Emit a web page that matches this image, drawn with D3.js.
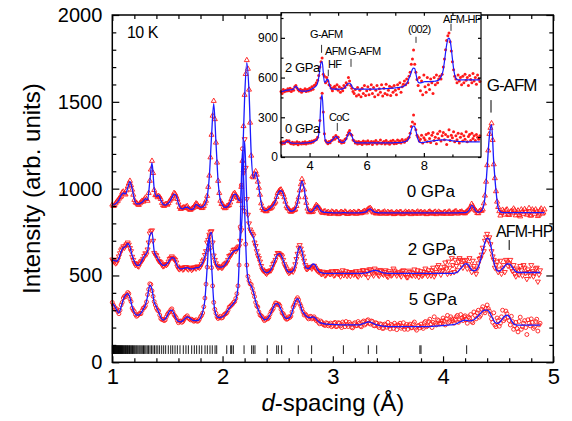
<!DOCTYPE html>
<html><head><meta charset="utf-8">
<script src="https://cdn.jsdelivr.net/npm/d3@7"></script>
<style>
body{margin:0;background:#fff}
svg text{font-family:"Liberation Sans",Arial,Helvetica,sans-serif;fill:#000}
</style></head><body>
<svg id="chart" width="572" height="421"></svg>
<script>
// ---- main panel: measured d-spacings (Å) ----
const dObs = [
1.00,1.01,1.02,1.03,1.04,1.05,1.06,1.07,1.08,1.09,1.10,1.11,1.12,1.13,1.14,1.15,1.16,1.17,1.18,1.19,
1.20,1.21,1.22,1.23,1.24,1.25,1.26,1.27,1.28,1.29,1.30,1.31,1.32,1.33,1.34,1.35,1.36,1.37,1.38,1.39,
1.40,1.41,1.42,1.43,1.44,1.45,1.46,1.47,1.48,1.49,1.50,1.51,1.52,1.53,1.54,1.55,1.56,1.57,1.58,1.59,
1.60,1.61,1.62,1.63,1.64,1.65,1.66,1.67,1.68,1.69,1.70,1.71,1.72,1.73,1.74,1.75,1.76,1.77,1.78,1.79,
1.80,1.81,1.82,1.83,1.84,1.85,1.86,1.87,1.88,1.89,1.90,1.91,1.92,1.93,1.94,1.95,1.96,1.97,1.98,1.99,
2.00,2.01,2.02,2.03,2.04,2.05,2.06,2.07,2.08,2.09,2.10,2.11,2.12,2.13,2.14,2.15,2.16,2.17,2.18,2.19,
2.20,2.21,2.22,2.23,2.24,2.25,2.26,2.27,2.28,2.29,2.30,2.31,2.32,2.33,2.34,2.35,2.36,2.37,2.38,2.39,
2.40,2.41,2.42,2.43,2.44,2.45,2.46,2.47,2.48,2.49,2.50,2.51,2.52,2.53,2.54,2.55,2.56,2.57,2.58,2.59,
2.60,2.61,2.62,2.63,2.64,2.65,2.66,2.67,2.68,2.69,2.70,2.71,2.72,2.73,2.74,2.75,2.76,2.77,2.78,2.79,
2.80,2.81,2.82,2.83,2.84,2.85,2.86,2.87,2.88,2.89,2.90,2.91,2.92,2.93,2.94,2.95,2.96,2.97,2.98,2.99,
3.00,3.01,3.02,3.03,3.04,3.05,3.06,3.07,3.08,3.09,3.10,3.11,3.12,3.13,3.14,3.15,3.16,3.17,3.18,3.19,
3.20,3.21,3.22,3.23,3.24,3.25,3.26,3.27,3.28,3.29,3.30,3.31,3.32,3.33,3.34,3.35,3.36,3.37,3.38,3.39,
3.40,3.41,3.42,3.43,3.44,3.45,3.46,3.47,3.48,3.49,3.50,3.51,3.52,3.53,3.54,3.55,3.56,3.57,3.58,3.59,
3.60,3.61,3.62,3.63,3.64,3.65,3.66,3.67,3.68,3.69,3.70,3.71,3.72,3.73,3.74,3.75,3.76,3.77,3.78,3.79,
3.80,3.81,3.82,3.83,3.84,3.85,3.86,3.87,3.88,3.89,3.90,3.91,3.92,3.93,3.94,3.95,3.96,3.97,3.98,3.99,
4.00,4.01,4.02,4.03,4.04,4.05,4.06,4.07,4.08,4.09,4.10,4.11,4.12,4.13,4.14,4.15,4.16,4.17,4.18,4.19,
4.20,4.21,4.22,4.23,4.24,4.25,4.26,4.27,4.28,4.29,4.30,4.31,4.32,4.33,4.34,4.35,4.36,4.37,4.38,4.39,
4.40,4.41,4.42,4.43,4.44,4.45,4.46,4.47,4.48,4.49,4.50,4.51,4.52,4.53,4.54,4.55,4.56,4.57,4.58,4.59,
4.60,4.61,4.62,4.63,4.64,4.65,4.66,4.67,4.68,4.69,4.70,4.71,4.72,4.73,4.74,4.75,4.76,4.77,4.78,4.79,
4.80,4.81,4.82,4.83,4.84,4.85,4.86,4.87,4.88,4.89,4.90,4.91,4.92];

// ---- main panel: refined-profile d-spacings (Å) ----
const dCalc = [
1.00,1.02,1.04,1.06,1.08,1.10,1.12,1.14,1.16,1.18,
1.20,1.22,1.24,1.26,1.28,1.30,1.32,1.34,1.36,1.38,
1.40,1.42,1.44,1.46,1.48,1.50,1.52,1.54,1.56,1.58,
1.60,1.62,1.64,1.66,1.68,1.70,1.72,1.74,1.76,1.78,
1.80,1.82,1.84,1.86,1.88,1.90,1.92,1.94,1.96,1.98,
2.00,2.02,2.04,2.06,2.08,2.10,2.12,2.14,2.16,2.18,
2.20,2.22,2.24,2.26,2.28,2.30,2.32,2.34,2.36,2.38,
2.40,2.42,2.44,2.46,2.48,2.50,2.52,2.54,2.56,2.58,
2.60,2.62,2.64,2.66,2.68,2.70,2.72,2.74,2.76,2.78,
2.80,2.82,2.84,2.86,2.88,2.90,2.92,2.94,2.96,2.98,
3.00,3.02,3.04,3.06,3.08,3.10,3.12,3.14,3.16,3.18,
3.20,3.22,3.24,3.26,3.28,3.30,3.32,3.34,3.36,3.38,
3.40,3.42,3.44,3.46,3.48,3.50,3.52,3.54,3.56,3.58,
3.60,3.62,3.64,3.66,3.68,3.70,3.72,3.74,3.76,3.78,
3.80,3.82,3.84,3.86,3.88,3.90,3.92,3.94,3.96,3.98,
4.00,4.02,4.04,4.06,4.08,4.10,4.12,4.14,4.16,4.18,
4.20,4.22,4.24,4.26,4.28,4.30,4.32,4.34,4.36,4.38,
4.40,4.42,4.44,4.46,4.48,4.50,4.52,4.54,4.56,4.58,
4.60,4.62,4.64,4.66,4.68,4.70,4.72,4.74,4.76,4.78,
4.80,4.82,4.84,4.86,4.88,4.90,4.92];

// 0 GPa (offset pattern, top)
const obs0GPa = [
908,900,903,915,925,930,942,950,955,978,983,972,966,990,1012,1030,1045,1020,994,965,
935,920,918,910,906,915,922,930,925,938,948,940,930,975,1045,1110,1160,1090,992,962,
962,950,958,952,940,918,905,900,910,912,907,916,930,938,944,960,975,970,955,940,
920,895,883,886,890,893,888,896,899,886,880,878,884,889,892,905,915,910,898,894,
897,888,890,900,915,930,958,1010,1075,1180,1310,1420,1505,1400,1265,1150,1045,975,930,912,
910,895,887,890,900,902,905,920,940,955,970,975,962,952,945,928,932,1010,1160,1360,
1540,1660,1740,1690,1570,1380,1190,1070,1065,1085,1100,1080,1040,1005,965,915,888,876,879,870,
870,880,886,884,889,896,910,916,925,952,975,985,992,995,980,968,950,925,898,888,
884,872,866,870,876,876,880,900,925,950,990,1025,1055,1035,995,950,918,885,868,864,
870,865,868,882,894,906,900,890,886,874,864,860,868,870,858,862,866,855,857,868,
865,856,858,866,862,853,856,864,866,859,859,868,863,854,855,862,864,858,858,866,
862,855,857,867,866,858,859,864,868,872,863,875,882,886,888,880,868,862,869,857,
858,866,865,856,856,862,863,868,857,855,866,859,859,864,862,853,854,861,865,858,
858,866,864,853,855,861,867,858,860,866,856,853,866,862,859,855,863,868,855,862,
866,858,857,864,862,853,855,866,868,861,859,855,864,867,853,858,867,862,860,856,
856,864,865,855,858,867,868,856,855,861,863,869,869,857,857,864,865,868,860,858,
858,866,872,878,884,895,912,900,886,878,872,860,858,870,875,872,880,915,960,1040,
1135,1220,1315,1350,1376,1280,1140,1060,985,925,894,870,845,860,878,868,850,875,880,852,
848,866,872,858,885,876,846,862,874,848,840,880,868,855,882,870,850,862,888,845,
845,880,870,855,880,868,842,850,875,885,856,862,880];
const calc0GPa = [
905,910,918,935,960,975,970,1005,1040,1000,
940,912,912,918,928,942,935,1040,1150,1000,
955,962,935,910,905,912,925,948,968,960,
915,888,884,892,893,884,880,888,910,902,
893,895,910,950,1070,1300,1490,1270,1040,935,
905,892,895,910,935,965,968,940,930,1130,
1520,1725,1560,1200,1060,1095,1045,960,892,874,
875,882,893,905,930,968,988,985,945,902,
880,870,872,885,920,985,1045,1000,912,872,
866,872,890,903,882,868,864,863,862,862,
861,861,860,860,861,862,861,860,860,860,
860,860,861,862,864,866,878,884,872,865,
862,861,860,860,860,860,860,860,860,860,
860,860,860,860,860,860,860,860,860,860,
860,860,860,860,860,860,860,860,860,860,
860,860,860,860,860,860,860,861,862,862,
862,866,880,904,890,868,864,868,885,950,
1120,1300,1368,1150,990,890,866,862,862,862,
862,862,862,862,862,862,862,862,862,862,
862,862,862,862,862,862,862];

// 2 GPa
const obs2GPa = [
592,582,578,570,575,592,610,628,645,655,668,660,672,680,690,678,658,640,608,590,
572,560,566,555,552,570,580,585,596,612,628,622,650,690,742,755,760,700,630,620,
616,598,584,580,575,562,553,556,565,560,566,580,595,600,610,602,596,590,575,552,
540,536,545,544,534,538,548,548,540,535,546,542,532,538,545,548,540,552,550,545,
552,565,582,592,618,640,690,705,735,752,755,690,615,590,570,556,545,550,552,545,
546,558,565,570,575,590,612,615,620,636,648,650,640,655,662,668,700,760,890,1090,
1285,1120,940,850,800,765,752,740,730,690,670,640,615,600,580,555,535,528,525,515,
510,520,524,528,530,548,566,575,590,612,630,628,622,618,610,590,565,552,540,525,
515,518,525,530,522,540,565,595,625,660,675,655,632,610,585,560,538,538,545,550,
548,540,552,556,545,535,528,522,525,512,508,522,518,500,505,515,520,510,508,525,
518,500,504,526,522,508,510,495,516,530,502,512,525,498,508,520,498,515,520,505,
512,525,500,494,524,515,505,530,530,512,508,525,490,535,535,518,510,500,540,528,
520,505,498,532,525,510,505,520,530,498,492,525,515,500,505,540,528,512,500,518,
518,506,495,525,530,512,505,490,490,528,520,505,500,515,535,498,508,530,492,510,
525,498,505,520,540,512,498,530,515,500,530,545,495,510,520,548,560,530,505,525,
530,550,575,540,510,580,545,515,600,560,520,590,555,530,580,600,590,560,545,585,
570,590,540,565,600,545,520,585,555,530,510,540,570,595,600,620,660,640,700,720,
740,705,720,680,640,610,590,545,560,580,520,535,585,510,545,560,520,590,580,555,
570,590,540,525,560,510,495,540,530,505,555,530,500,560,545,515,480,535,520,500,
560,525,495,515,540,545,465,505,530,null,null,null,null];
const calc2GPa = [
588,585,582,600,638,660,666,684,665,615,
580,560,558,575,600,620,640,730,748,640,
610,590,570,558,560,570,588,603,600,570,
545,538,540,543,545,540,538,540,545,545,
555,575,610,665,725,748,630,565,550,548,
550,560,580,605,625,640,645,650,700,880,
1275,930,780,745,720,665,620,575,540,522,
515,520,535,560,595,622,626,605,570,535,
520,520,528,560,630,668,640,580,542,540,
552,566,560,535,520,515,512,512,512,512,
512,512,512,512,512,512,512,512,512,512,
512,512,512,512,513,515,518,522,527,529,
528,524,519,515,513,512,512,512,512,512,
512,512,512,512,512,512,512,512,512,512,
512,512,512,512,512,512,512,512,512,512,
512,512,512,512,512,513,516,525,540,555,
567,566,550,532,527,532,550,590,640,690,
715,705,650,580,538,525,528,540,555,566,
567,555,535,522,518,517,517,517,517,517,
517,517,517,517,517,null,null];

// 5 GPa
const obs5GPa = [
345,330,318,305,308,292,280,300,330,345,370,380,378,390,402,395,365,350,312,300,
292,275,265,270,278,282,280,298,312,315,325,348,390,420,452,448,412,380,350,330,
312,300,296,272,252,246,248,240,244,262,276,285,290,302,308,290,274,265,256,240,
228,236,238,230,235,246,258,262,268,255,250,244,248,242,236,240,245,236,238,248,
262,270,284,320,370,450,548,650,725,660,545,440,345,305,282,262,252,258,265,255,
258,270,278,280,286,300,318,322,330,335,345,350,368,395,440,560,780,1020,1230,1100,
870,680,560,495,470,452,448,425,400,378,345,325,318,290,272,268,262,250,240,246,
255,250,258,276,292,300,310,328,342,340,332,335,326,305,284,280,268,255,248,250,
262,258,266,290,318,330,345,362,372,360,338,325,308,290,272,278,270,258,250,262,
265,250,255,262,250,240,246,230,222,238,232,220,215,212,228,224,210,218,226,205,
212,225,230,205,208,228,225,210,200,232,222,205,235,218,206,230,220,202,198,222,
228,210,212,235,225,208,205,232,238,215,222,240,245,225,220,238,235,212,210,228,
225,208,200,222,218,195,196,220,215,202,230,208,192,218,212,195,225,210,188,215,
214,225,196,205,228,190,205,218,190,212,220,198,200,222,232,196,185,210,212,198,
220,205,195,228,235,205,210,235,248,220,200,230,262,225,215,245,240,220,225,238,
255,240,215,250,270,228,235,262,250,238,225,248,262,270,230,245,275,255,240,262,
268,245,225,262,255,275,235,228,290,270,250,285,300,260,270,305,320,295,285,310,
330,310,295,275,250,230,285,215,205,255,240,208,225,262,300,240,250,295,280,260,
240,215,265,235,190,210,230,195,175,235,260,190,205,225,240,200,160,245,225,210,
250,230,195,205,235,248,180,215,225,null,null,null,null];
const calc5GPa = [
338,325,300,285,320,362,385,396,372,320,
285,272,272,285,305,330,380,445,420,345,
320,290,258,243,250,270,295,300,280,250,
235,233,240,252,262,256,245,240,240,242,
255,290,360,540,712,560,350,275,258,258,
262,272,290,310,325,340,360,430,760,1220,
880,540,460,440,405,350,310,280,258,245,
248,262,285,315,336,338,320,290,262,252,
255,270,310,350,367,345,300,280,265,258,
258,262,255,240,230,225,222,220,219,218,
218,217,217,216,216,215,215,215,215,215,
215,215,216,219,224,229,232,231,226,220,
215,212,210,208,207,206,205,205,205,205,
205,205,205,205,205,205,205,205,205,205,
205,205,205,205,206,207,208,209,210,211,
212,213,214,215,216,218,222,228,235,240,
243,240,238,240,245,255,268,282,295,300,
300,290,265,240,226,225,235,252,266,271,
262,240,222,215,214,214,214,214,214,214,
214,214,214,214,214,null,null];

// Bragg reflection positions (Å)
const braggD = [
1.000,1.004,1.008,1.011,1.015,1.019,1.022,1.026,1.030,1.033,1.037,1.041,1.045,1.049,1.052,1.056,
1.061,1.065,1.069,1.074,1.078,1.083,1.087,1.092,1.097,1.103,1.108,1.114,1.119,1.125,1.131,1.137,
1.142,1.149,1.156,1.162,1.169,1.176,1.183,1.191,1.199,1.207,1.216,1.224,1.233,1.243,1.252,1.262,
1.272,1.283,1.294,1.305,1.317,1.329,1.342,1.355,1.369,1.383,1.398,1.413,1.429,1.448,1.466,1.484,
1.508,1.530,1.548,1.569,1.590,1.614,1.644,1.668,1.690,1.720,1.744,1.765,1.789,1.811,1.841,1.862,
1.886,1.907,1.932,1.947,2.038,2.074,2.083,2.098,2.195,2.264,2.279,2.294,2.406,2.491,2.506,2.536,
2.687,2.808,3.096,3.322,3.398,3.790,3.800,4.214];

// ---- inset: long-d magnetic region ----
const dInset = [
3.00,3.04,3.08,3.12,3.16,3.20,3.24,3.28,3.32,3.36,
3.40,3.44,3.48,3.52,3.56,3.60,3.64,3.68,3.72,3.76,
3.80,3.84,3.88,3.92,3.96,4.00,4.04,4.08,4.12,4.16,
4.20,4.24,4.28,4.32,4.36,4.40,4.44,4.48,4.52,4.56,
4.60,4.64,4.68,4.72,4.76,4.80,4.84,4.88,4.92,4.96,
5.00,5.04,5.08,5.12,5.16,5.20,5.24,5.28,5.32,5.36,
5.40,5.44,5.48,5.52,5.56,5.60,5.64,5.68,5.72,5.76,
5.80,5.84,5.88,5.92,5.96,6.00,6.04,6.08,6.12,6.16,
6.20,6.24,6.28,6.32,6.36,6.40,6.44,6.48,6.52,6.56,
6.60,6.64,6.68,6.72,6.76,6.80,6.84,6.88,6.92,6.96,
7.00,7.04,7.08,7.12,7.16,7.20,7.24,7.28,7.32,7.36,
7.40,7.44,7.48,7.52,7.56,7.60,7.64,7.68,7.72,7.76,
7.80,7.84,7.88,7.92,7.96,8.00,8.04,8.08,8.12,8.16,
8.20,8.24,8.28,8.32,8.36,8.40,8.44,8.48,8.52,8.56,
8.60,8.64,8.68,8.72,8.76,8.80,8.84,8.88,8.92,8.96,
9.00,9.04,9.08,9.12,9.16,9.20,9.24,9.28,9.32,9.36,
9.40,9.44,9.48,9.52,9.56,9.60,9.64,9.68,9.72,9.76,
9.80,9.84,9.88,9.92,9.96];
const insetObs0GPa = [
110,98,115,102,118,125,115,122,105,100,
112,96,108,100,115,92,110,102,98,112,
100,115,98,110,104,118,106,120,112,125,
128,132,150,190,275,445,482,340,175,125,
112,100,118,108,125,128,150,135,162,145,
150,118,125,105,120,110,135,140,165,185,
200,172,165,128,122,105,115,98,118,102,
112,95,120,104,115,98,122,100,110,118,
95,115,108,124,98,112,105,128,100,110,
118,98,125,104,112,96,120,108,126,100,
115,102,128,110,120,105,132,118,112,130,
125,140,150,180,230,265,318,250,205,165,
150,120,135,165,105,145,130,170,115,180,
140,110,165,185,125,150,100,175,140,195,
120,160,185,130,170,95,155,205,125,165,
145,190,115,160,130,180,105,150,175,120,
160,135,190,115,155,170,125,180,140,160,
125,170,150,135,160];
const insetCalc0GPa = [
108,106,105,106,110,118,122,118,110,106,
105,104,104,104,104,104,104,104,105,105,
105,106,106,107,108,108,110,112,115,118,
122,128,140,170,260,430,470,330,170,120,
110,107,108,112,120,130,140,148,154,152,
140,126,115,110,110,113,120,135,155,175,
184,178,158,135,118,110,107,106,106,106,
106,106,106,106,106,106,106,106,106,106,
106,106,106,106,106,106,106,106,106,106,
106,106,106,106,106,107,107,107,107,108,
108,108,108,108,109,110,111,113,115,118,
122,130,145,170,205,228,234,228,200,160,
130,115,110,108,108,110,112,114,116,118,
118,120,121,122,123,124,125,126,127,128,
129,129,130,130,130,129,128,127,125,124,
122,121,120,119,118,118,117,117,116,116,
116,115,115,115,115,115,115,115,115,115,
115,115,115,115,115];
const insetObs2GPa = [
495,480,510,492,505,498,515,500,520,495,
512,505,530,540,522,508,498,512,490,505,
500,515,495,510,498,520,505,530,512,540,
545,560,580,615,680,720,747,625,610,560,
600,575,545,540,520,500,525,535,515,545,
505,530,490,520,500,540,525,560,545,600,
575,540,520,495,480,510,460,525,470,505,
455,520,480,540,465,500,530,470,510,545,
480,525,455,505,540,470,515,490,545,460,
520,480,550,470,505,535,465,525,490,540,
505,470,545,515,560,490,530,550,575,545,
590,560,610,640,700,740,809,700,640,585,
540,600,500,575,470,620,530,490,600,545,
510,590,560,480,600,545,620,560,590,610,
590,625,680,740,810,880,915,936,870,800,
720,660,610,590,560,620,575,600,545,610,
560,625,580,600,540,615,585,560,630,575,
600,550,620,590,570];
const insetCalc2GPa = [
492,495,498,500,502,505,505,507,508,508,
510,515,528,533,525,512,505,500,498,497,
497,497,498,500,502,505,510,515,520,525,
530,540,558,600,660,712,721,640,565,568,
585,588,560,528,515,512,512,512,512,512,
512,512,512,513,515,520,528,540,550,557,
557,550,535,522,515,512,512,512,512,512,
512,512,512,512,512,512,512,512,512,512,
512,512,512,513,513,514,514,515,515,516,
516,516,517,517,518,518,519,520,520,521,
522,523,524,525,526,528,530,533,538,545,
555,570,595,615,640,663,671,668,630,590,
565,560,560,562,565,568,570,570,570,570,
570,570,570,571,572,573,575,578,582,590,
605,625,660,720,790,850,890,898,880,820,
740,670,620,595,585,582,582,582,582,582,
582,582,582,582,582,582,582,582,582,582,
582,582,582,582,582];

// axis ticks
const xMajorTicks = [1,2,3,4,5];
const xMinorTicks = [1.2,1.4,1.6,1.8,2.2,2.4,2.6,2.8,3.2,3.4,3.6,3.8,4.2,4.4,4.6,4.8];
const yMajorTicks = [0,500,1000,1500,2000];
const yMinorTicks = [100,200,300,400,600,700,800,900,1100,1200,1300,1400,1600,1700,1800,1900];
const insetXMajorTicks = [4,6,8];
const insetXMinorTicks = [3,5,7,9];
const insetYMajorTicks = [0,300,600,900];
const insetYMinorTicks = [150,450,750,1050];

// ---------------- drawing ----------------
const RED = "#ff1a1a", BLUE = "#1a1aff";
const svg = d3.select("#chart");
const x = d3.scaleLinear().domain([1, 5]).range([112.3, 553.3]);
const y = d3.scaleLinear().domain([0, 2000]).range([362.3, 15]);

const pairs = (dArr, vals) => dArr.map((d, i) => ({d, v: vals[i]})).filter(r => r.v != null);

const mainSeries = [
  {obs: pairs(dObs, obs0GPa), calc: pairs(dCalc, calc0GPa), symbol: d3.symbolTriangle, rot: 0, size: 11},
  {obs: pairs(dObs, obs2GPa), calc: pairs(dCalc, calc2GPa), symbol: d3.symbolTriangle, rot: 180, size: 11},
  {obs: pairs(dObs, obs5GPa), calc: pairs(dCalc, calc5GPa), symbol: d3.symbolCircle, rot: 0, size: 12}
];

const plot = svg.append("g");
mainSeries.forEach(s => {
  const sym = d3.symbol().type(s.symbol).size(s.size);
  plot.append("g").selectAll("path")
    .data(s.obs)
    .join("path")
    .attr("d", sym)
    .attr("transform", r => `translate(${x(r.d)},${y(r.v)}) rotate(${s.rot})`)
    .attr("fill", "none").attr("stroke", RED).attr("stroke-width", 0.9);
});
mainSeries.forEach(s => {
  plot.append("path")
    .datum(s.calc)
    .attr("fill", "none").attr("stroke", BLUE).attr("stroke-width", 1.3)
    .attr("d", d3.line().x(r => x(r.d)).y(r => y(r.v)).curve(d3.curveMonotoneX));
});

// Bragg reflection markers
plot.append("g").selectAll("line").data(braggD).join("line")
  .attr("x1", d => x(d)).attr("x2", d => x(d))
  .attr("y1", y(48)).attr("y2", y(98))
  .attr("stroke", "#000").attr("stroke-width", 0.9);

// axes with inward ticks
function styleAxis(g, fs) {
  g.attr("font-family", '"Liberation Sans",Arial,sans-serif').attr("font-size", fs);
  g.select(".domain").remove();
  g.selectAll(".tick line").attr("stroke", "#000").attr("stroke-width", 1.2);
}
const x0 = x.range()[0], x1 = x.range()[1], yB = y.range()[0], yT = y.range()[1];
svg.append("g").attr("transform", `translate(0,${yB})`)
  .call(d3.axisBottom(x).tickValues(xMajorTicks).tickFormat(d3.format("d")).tickSizeInner(-6).tickSizeOuter(0).tickPadding(6))
  .call(g => styleAxis(g, 22));
svg.append("g").attr("transform", `translate(0,${yB})`)
  .call(d3.axisBottom(x).tickValues(xMinorTicks).tickFormat("").tickSizeInner(-4).tickSizeOuter(0))
  .call(g => styleAxis(g, 10));
svg.append("g").attr("transform", `translate(0,${yT})`)
  .call(d3.axisTop(x).tickValues(xMajorTicks).tickFormat("").tickSizeInner(-6).tickSizeOuter(0))
  .call(g => styleAxis(g, 10));
svg.append("g").attr("transform", `translate(0,${yT})`)
  .call(d3.axisTop(x).tickValues(xMinorTicks).tickFormat("").tickSizeInner(-4).tickSizeOuter(0))
  .call(g => styleAxis(g, 10));
svg.append("g").attr("transform", `translate(${x0},0)`)
  .call(d3.axisLeft(y).tickValues(yMajorTicks).tickFormat(d3.format("d")).tickSizeInner(-7).tickSizeOuter(0).tickPadding(10))
  .call(g => styleAxis(g, 20));
svg.append("g").attr("transform", `translate(${x0},0)`)
  .call(d3.axisLeft(y).tickValues(yMinorTicks).tickFormat("").tickSizeInner(-4).tickSizeOuter(0))
  .call(g => styleAxis(g, 10));
svg.append("g").attr("transform", `translate(${x1},0)`)
  .call(d3.axisRight(y).tickValues(yMajorTicks).tickFormat("").tickSizeInner(-7).tickSizeOuter(0))
  .call(g => styleAxis(g, 10));
svg.append("g").attr("transform", `translate(${x1},0)`)
  .call(d3.axisRight(y).tickValues(yMinorTicks).tickFormat("").tickSizeInner(-4).tickSizeOuter(0))
  .call(g => styleAxis(g, 10));
svg.append("rect").attr("x", x0).attr("y", yT).attr("width", x1 - x0).attr("height", yB - yT)
  .attr("fill", "none").attr("stroke", "#000").attr("stroke-width", 1.5);

// axis titles
svg.append("text").attr("transform", `translate(40,${(yB + yT) / 2}) rotate(-90)`)
  .attr("text-anchor", "middle").attr("font-size", 24).text("Intensity (arb. units)");
const xt = svg.append("text").attr("x", (x0 + x1) / 2).attr("y", 411)
  .attr("text-anchor", "middle").attr("font-size", 24);
xt.append("tspan").attr("font-style", "italic").text("d");
xt.append("tspan").text("-spacing (Å)");

// annotations
function label(px, py, txt, fs, ls) {
  return svg.append("text").attr("x", px).attr("y", py).attr("font-size", fs)
    .attr("letter-spacing", ls || 0).text(txt);
}
function mark(px, py1, py2, w) {
  svg.append("line").attr("x1", px).attr("x2", px).attr("y1", py1).attr("y2", py2)
    .attr("stroke", "#000").attr("stroke-width", w || 1);
}
label(x(1.133), y(1868), "10 K", 16, -0.5);
label(x(3.67), y(954), "0 GPa", 17, 0);
label(x(3.68), y(618), "2 GPa", 17, 0);
label(x(3.69), y(330), "5 GPa", 17, 0);
label(x(4.396), y(1565), "G-AFM", 17, -1);
mark(x(4.435), y(1510), y(1438));
label(x(4.48), y(723), "AFM-HP", 16, -0.8);
mark(x(4.60), y(704), y(647));

// ---------------- inset ----------------
const ix = d3.scaleLinear().domain([3, 10]).range([281, 481]);
const iy = d3.scaleLinear().domain([0, 1090]).range([157, 12.7]);
const ins = svg.append("g");
ins.append("rect").attr("x", 281).attr("y", 12.7).attr("width", 200).attr("height", 157 - 12.7)
  .attr("fill", "#fff");
const insetSeries = [
  {obs: pairs(dInset, insetObs2GPa), calc: pairs(dInset, insetCalc2GPa)},
  {obs: pairs(dInset, insetObs0GPa), calc: pairs(dInset, insetCalc0GPa)}
];
insetSeries.forEach(s => {
  ins.append("g").selectAll("circle").data(s.obs).join("circle")
    .attr("cx", r => ix(r.d)).attr("cy", r => iy(r.v)).attr("r", 1.5)
    .attr("fill", RED);
});
insetSeries.forEach(s => {
  ins.append("path").datum(s.calc).attr("fill", "none").attr("stroke", BLUE).attr("stroke-width", 1.2)
    .attr("d", d3.line().x(r => ix(r.d)).y(r => iy(r.v)).curve(d3.curveMonotoneX));
});
const ix0 = ix.range()[0], ix1 = ix.range()[1], iyB = iy.range()[0], iyT = iy.range()[1];
ins.append("g").attr("transform", `translate(0,${iyB})`)
  .call(d3.axisBottom(ix).tickValues(insetXMajorTicks).tickFormat(d3.format("d")).tickSizeInner(-4).tickSizeOuter(0).tickPadding(4))
  .call(g => styleAxis(g, 13));
ins.append("g").attr("transform", `translate(0,${iyB})`)
  .call(d3.axisBottom(ix).tickValues(insetXMinorTicks).tickFormat("").tickSizeInner(-2.5).tickSizeOuter(0))
  .call(g => styleAxis(g, 10));
ins.append("g").attr("transform", `translate(0,${iyT})`)
  .call(d3.axisTop(ix).tickValues(insetXMajorTicks.concat(insetXMinorTicks)).tickFormat("").tickSizeInner(-3).tickSizeOuter(0))
  .call(g => styleAxis(g, 10));
ins.append("g").attr("transform", `translate(${ix0},0)`)
  .call(d3.axisLeft(iy).tickValues(insetYMajorTicks).tickFormat(d3.format("d")).tickSizeInner(-4).tickSizeOuter(0).tickPadding(3))
  .call(g => styleAxis(g, 12));
ins.append("g").attr("transform", `translate(${ix0},0)`)
  .call(d3.axisLeft(iy).tickValues(insetYMinorTicks).tickFormat("").tickSizeInner(-2.5).tickSizeOuter(0))
  .call(g => styleAxis(g, 10));
ins.append("g").attr("transform", `translate(${ix1},0)`)
  .call(d3.axisRight(iy).tickValues(insetYMajorTicks.concat(insetYMinorTicks)).tickFormat("").tickSizeInner(-3).tickSizeOuter(0))
  .call(g => styleAxis(g, 10));
ins.append("rect").attr("x", ix0).attr("y", iyT).attr("width", ix1 - ix0).attr("height", iyB - iyT)
  .attr("fill", "none").attr("stroke", "#000").attr("stroke-width", 1.2);

function ilabel(d, v, txt, fs, ls) {
  return ins.append("text").attr("x", ix(d)).attr("y", iy(v)).attr("font-size", fs)
    .attr("letter-spacing", ls || 0).text(txt);
}
function imark(d, v1, v2) {
  ins.append("line").attr("x1", ix(d)).attr("x2", ix(d)).attr("y1", iy(v1)).attr("y2", iy(v2))
    .attr("stroke", "#000").attr("stroke-width", 0.8);
}
ilabel(3.14, 643, "2 GPa", 13, -0.4);
ilabel(3.14, 182, "0 GPa", 13, -0.4);
ilabel(4.015, 900, "G-AFM", 11, -0.6);
imark(4.42, 847, 787);
ilabel(4.54, 772, "AFM", 11, -0.6);
ilabel(4.645, 673, "HF", 11, -0.6);
imark(4.655, 660, 610);
ilabel(5.345, 772, "G-AFM", 11, -0.6);
imark(5.45, 741, 681);
ilabel(7.445, 938, "(002)", 11, -0.6);
imark(7.725, 908, 862);
ilabel(8.67, 1013, "AFM-HP", 11, -0.6);
imark(8.95, 1006, 953);
ilabel(4.68, 272, "CoC", 11, -0.6);
imark(4.97, 257, 197);
</script>
</body></html>
